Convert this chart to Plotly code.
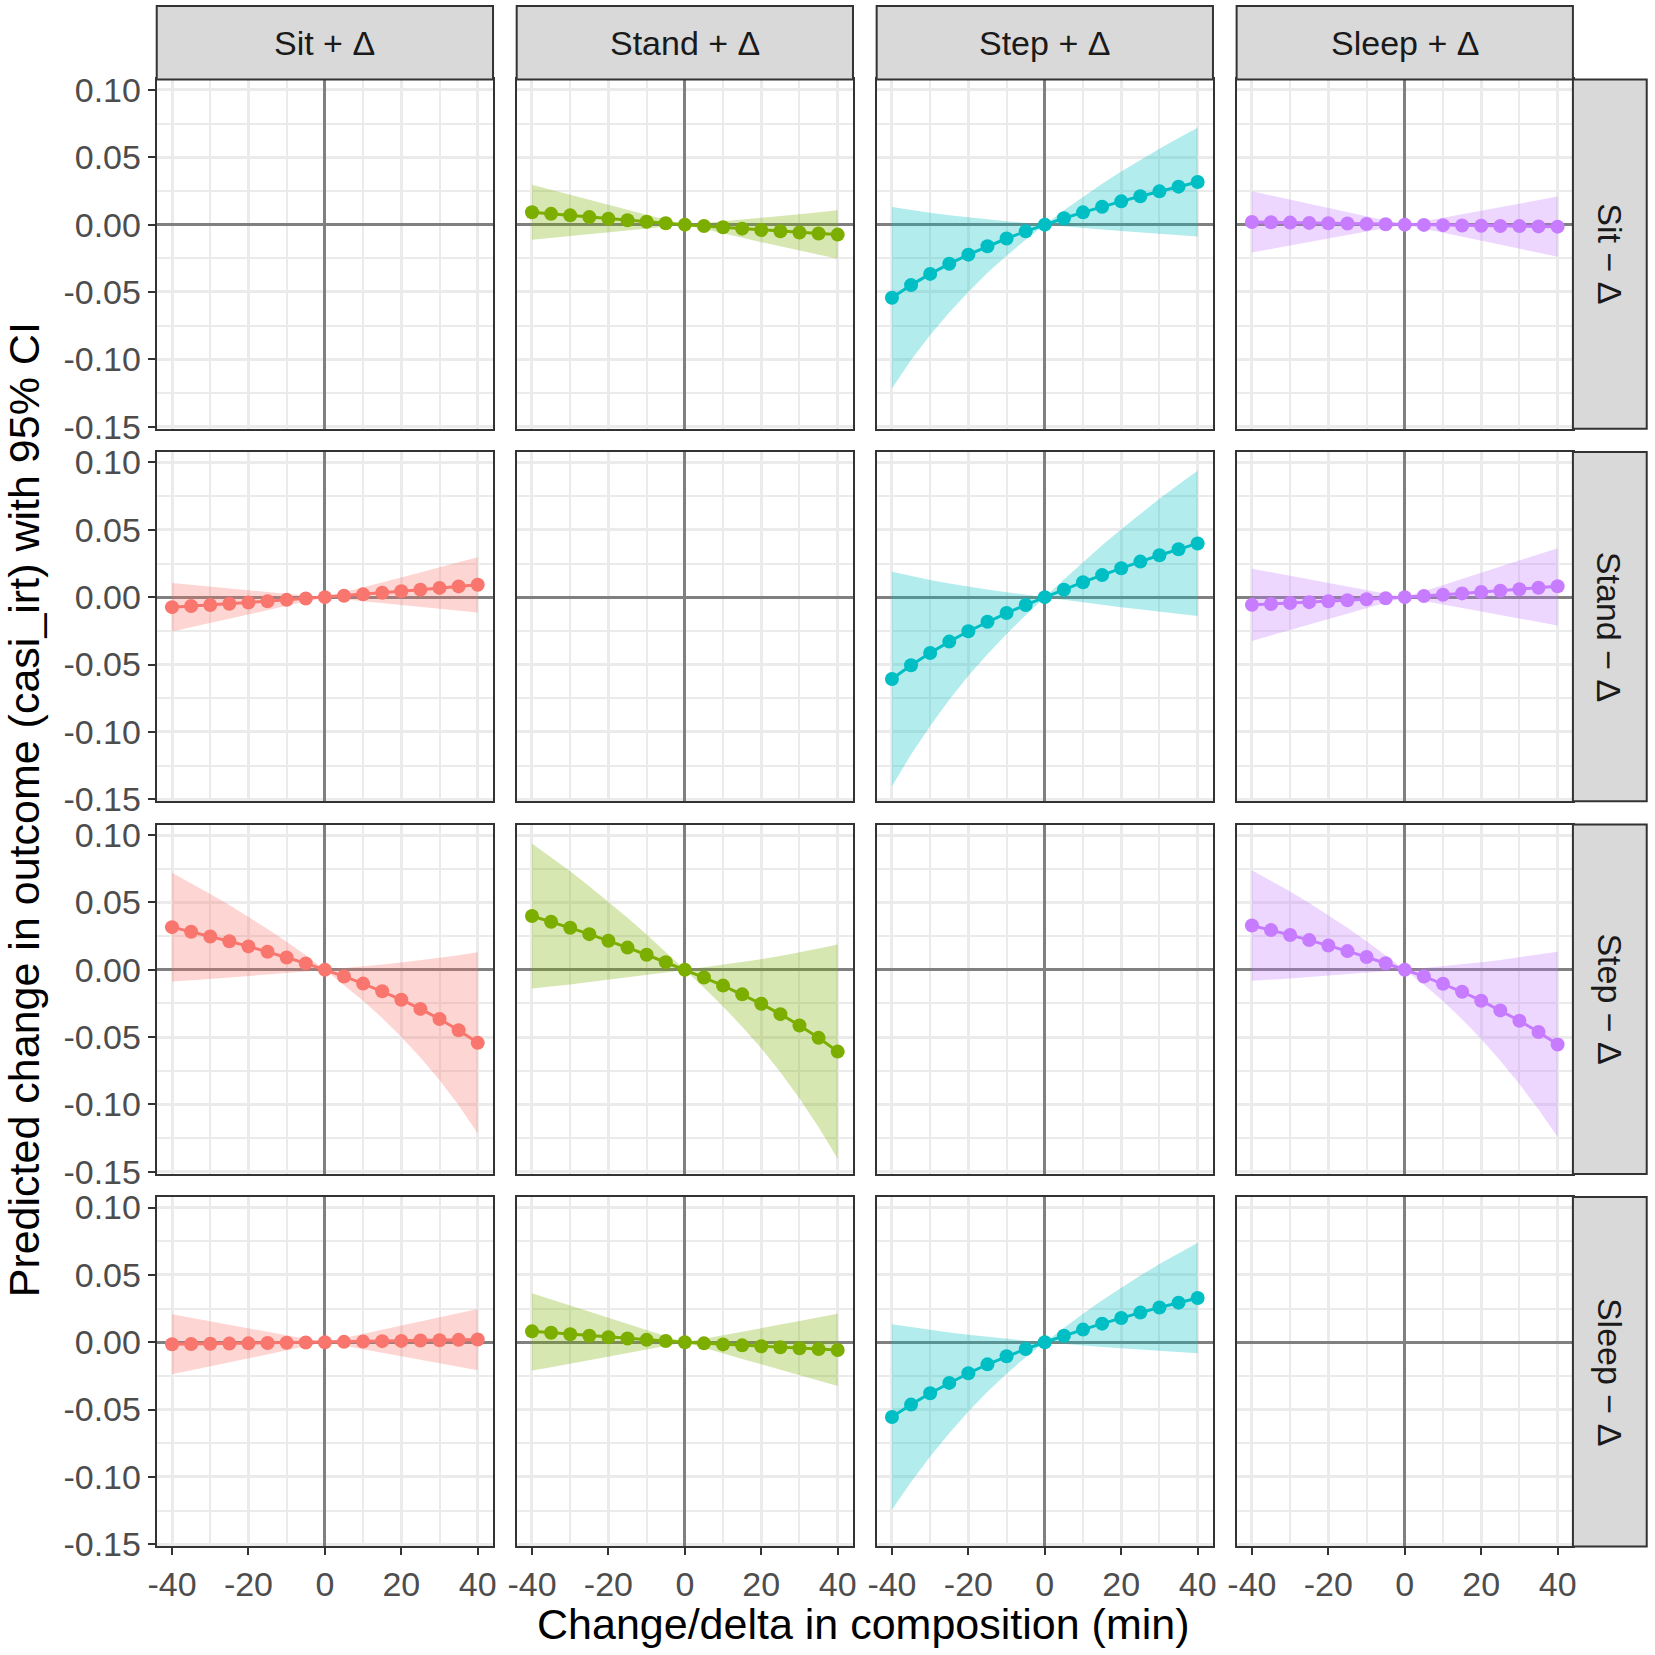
import plotly.graph_objects as go
from plotly.subplots import make_subplots

# facet labels: columns = activity increased (+), rows = activity decreased (-)
PLUS = ["Sit", "Stand", "Step", "Sleep"]
MINUS = ["Sit", "Stand", "Step", "Sleep"]
COLORS = ["#F8766D", "#7CAE00", "#00BFC4", "#C77CFF"]
FILLS = ["rgba(248,118,109,0.3)", "rgba(124,174,0,0.3)",
         "rgba(0,191,196,0.3)", "rgba(199,124,255,0.3)"]

DELTA = [-40, -35, -30, -25, -20, -15, -10, -5, 0, 5, 10, 15, 20, 25, 30, 35, 40]

X_TICKS = [-40, -20, 0, 20, 40]
X_TICK_TEXT = ["-40", "-20", "0", "20", "40"]
Y_TICKS = [-0.15, -0.10, -0.05, 0.0, 0.05, 0.10]
Y_TICK_TEXT = ["-0.15", "-0.10", "-0.05", "0.00", "0.05", "0.10"]

# Stand + / Sit -
STAND_SIT_EST = [0.0092, 0.0080, 0.0069, 0.0056, 0.0044, 0.0033, 0.0021, 0.0010, 0.0,
                 -0.0010, -0.0020, -0.0030, -0.0040, -0.0049, -0.0058, -0.0066, -0.0074]
STAND_SIT_LO = [-0.0113, -0.0100, -0.0085, -0.0072, -0.0059, -0.0044, -0.0030, -0.0016, 0.0,
                -0.0033, -0.0065, -0.0098, -0.0130, -0.0162, -0.0193, -0.0224, -0.0254]
STAND_SIT_HI = [0.0297, 0.0260, 0.0223, 0.0184, 0.0147, 0.0110, 0.0072, 0.0036, 0.0,
                0.0013, 0.0025, 0.0038, 0.0050, 0.0064, 0.0077, 0.0092, 0.0106]

# Sit + / Stand -
SIT_STAND_EST = [-0.0074, -0.0066, -0.0058, -0.0049, -0.0040, -0.0030, -0.0020, -0.0010, 0.0,
                 0.0010, 0.0021, 0.0033, 0.0044, 0.0056, 0.0069, 0.0080, 0.0092]
SIT_STAND_LO = [-0.0254, -0.0224, -0.0193, -0.0162, -0.0130, -0.0098, -0.0065, -0.0033, 0.0,
                -0.0016, -0.0030, -0.0044, -0.0059, -0.0072, -0.0085, -0.0100, -0.0113]
SIT_STAND_HI = [0.0106, 0.0092, 0.0077, 0.0064, 0.0050, 0.0038, 0.0025, 0.0013, 0.0,
                0.0036, 0.0072, 0.0110, 0.0147, 0.0184, 0.0223, 0.0260, 0.0297]

# Step + / Sit -
STEP_SIT_EST = [-0.0543, -0.0449, -0.0366, -0.0291, -0.0223, -0.0160, -0.0103, -0.0050, 0.0,
                0.0047, 0.0091, 0.0133, 0.0173, 0.0211, 0.0247, 0.0282, 0.0316]
STEP_SIT_LO = [-0.1216, -0.1006, -0.0820, -0.0652, -0.0500, -0.0358, -0.0231, -0.0112, 0.0,
               -0.0013, -0.0025, -0.0037, -0.0048, -0.0059, -0.0069, -0.0079, -0.0088]
STEP_SIT_HI = [0.0130, 0.0108, 0.0088, 0.0070, 0.0054, 0.0038, 0.0025, 0.0012, 0.0,
               0.0107, 0.0207, 0.0303, 0.0394, 0.0481, 0.0563, 0.0643, 0.0720]

# Sit + / Step -
SIT_STEP_EST = [0.0316, 0.0282, 0.0247, 0.0211, 0.0173, 0.0133, 0.0091, 0.0047, 0.0,
                -0.0050, -0.0103, -0.0160, -0.0223, -0.0291, -0.0366, -0.0449, -0.0543]
SIT_STEP_LO = [-0.0088, -0.0079, -0.0069, -0.0059, -0.0048, -0.0037, -0.0025, -0.0013, 0.0,
               -0.0112, -0.0231, -0.0358, -0.0500, -0.0652, -0.0820, -0.1006, -0.1216]
SIT_STEP_HI = [0.0720, 0.0643, 0.0563, 0.0481, 0.0394, 0.0303, 0.0207, 0.0107, 0.0,
               0.0012, 0.0025, 0.0038, 0.0054, 0.0070, 0.0088, 0.0108, 0.0130]

# Sleep + / Sit -
SLEEP_SIT_EST = [0.0020, 0.0018, 0.0015, 0.0013, 0.0010, 0.0008, 0.0005, 0.0003, 0.0,
                 -0.0002, -0.0004, -0.0006, -0.0008, -0.0010, -0.0011, -0.0013, -0.0015]
SLEEP_SIT_LO = [-0.0207, -0.0181, -0.0155, -0.0129, -0.0104, -0.0077, -0.0052, -0.0025, 0.0,
                -0.0030, -0.0060, -0.0090, -0.0120, -0.0150, -0.0178, -0.0208, -0.0238]
SLEEP_SIT_HI = [0.0247, 0.0217, 0.0185, 0.0155, 0.0124, 0.0093, 0.0062, 0.0031, 0.0,
                0.0026, 0.0052, 0.0078, 0.0104, 0.0130, 0.0156, 0.0182, 0.0208]

# Sit + / Sleep -
SIT_SLEEP_EST = [-0.0015, -0.0013, -0.0011, -0.0010, -0.0008, -0.0006, -0.0004, -0.0002, 0.0,
                 0.0003, 0.0005, 0.0008, 0.0010, 0.0013, 0.0015, 0.0018, 0.0020]
SIT_SLEEP_LO = [-0.0238, -0.0208, -0.0178, -0.0150, -0.0120, -0.0090, -0.0060, -0.0030, 0.0,
                -0.0025, -0.0052, -0.0077, -0.0104, -0.0129, -0.0155, -0.0181, -0.0207]
SIT_SLEEP_HI = [0.0208, 0.0182, 0.0156, 0.0130, 0.0104, 0.0078, 0.0052, 0.0026, 0.0,
                0.0031, 0.0062, 0.0093, 0.0124, 0.0155, 0.0185, 0.0217, 0.0247]

# Stand + / Step -
STAND_STEP_EST = [0.0399, 0.0356, 0.0311, 0.0264, 0.0215, 0.0164, 0.0111, 0.0056, 0.0,
                  -0.0058, -0.0118, -0.0183, -0.0253, -0.0330, -0.0414, -0.0506, -0.0608]
STAND_STEP_LO = [-0.0140, -0.0125, -0.0109, -0.0092, -0.0075, -0.0057, -0.0039, -0.0020, 0.0,
                 -0.0134, -0.0273, -0.0423, -0.0584, -0.0762, -0.0956, -0.1169, -0.1404]
STAND_STEP_HI = [0.0938, 0.0837, 0.0731, 0.0620, 0.0505, 0.0385, 0.0261, 0.0132, 0.0,
                 0.0018, 0.0037, 0.0057, 0.0078, 0.0102, 0.0128, 0.0157, 0.0188]

# Step + / Stand -
STEP_STAND_EST = [-0.0608, -0.0506, -0.0414, -0.0330, -0.0253, -0.0183, -0.0118, -0.0058, 0.0,
                  0.0056, 0.0111, 0.0164, 0.0215, 0.0264, 0.0311, 0.0356, 0.0399]
STEP_STAND_LO = [-0.1404, -0.1169, -0.0956, -0.0762, -0.0584, -0.0423, -0.0273, -0.0134, 0.0,
                 -0.0020, -0.0039, -0.0057, -0.0075, -0.0092, -0.0109, -0.0125, -0.0140]
STEP_STAND_HI = [0.0188, 0.0157, 0.0128, 0.0102, 0.0078, 0.0057, 0.0037, 0.0018, 0.0,
                 0.0132, 0.0261, 0.0385, 0.0505, 0.0620, 0.0731, 0.0837, 0.0938]

# Stand + / Sleep -
STAND_SLEEP_EST = [0.0081, 0.0070, 0.0059, 0.0048, 0.0038, 0.0028, 0.0018, 0.0009, 0.0,
                   -0.0008, -0.0016, -0.0023, -0.0030, -0.0037, -0.0044, -0.0051, -0.0057]
STAND_SLEEP_LO = [-0.0210, -0.0185, -0.0159, -0.0133, -0.0107, -0.0080, -0.0054, -0.0027, 0.0,
                  -0.0042, -0.0083, -0.0124, -0.0164, -0.0205, -0.0245, -0.0286, -0.0325]
STAND_SLEEP_HI = [0.0364, 0.0318, 0.0271, 0.0225, 0.0180, 0.0134, 0.0089, 0.0044, 0.0,
                  0.0026, 0.0051, 0.0078, 0.0104, 0.0131, 0.0157, 0.0184, 0.0211]

# Sleep + / Stand -
SLEEP_STAND_EST = [-0.0057, -0.0051, -0.0044, -0.0037, -0.0030, -0.0023, -0.0016, -0.0008, 0.0,
                   0.0009, 0.0018, 0.0028, 0.0038, 0.0048, 0.0059, 0.0070, 0.0081]
SLEEP_STAND_LO = [-0.0325, -0.0286, -0.0245, -0.0205, -0.0164, -0.0124, -0.0083, -0.0042, 0.0,
                  -0.0027, -0.0054, -0.0080, -0.0107, -0.0133, -0.0159, -0.0185, -0.0210]
SLEEP_STAND_HI = [0.0211, 0.0184, 0.0157, 0.0131, 0.0104, 0.0078, 0.0051, 0.0026, 0.0,
                  0.0044, 0.0089, 0.0134, 0.0180, 0.0225, 0.0271, 0.0318, 0.0364]

# Sleep + / Step -
SLEEP_STEP_EST = [0.0328, 0.0294, 0.0258, 0.0220, 0.0180, 0.0138, 0.0094, 0.0048, 0.0,
                  -0.0050, -0.0104, -0.0164, -0.0230, -0.0302, -0.0379, -0.0463, -0.0555]
SLEEP_STEP_LO = [-0.0082, -0.0074, -0.0065, -0.0055, -0.0045, -0.0035, -0.0024, -0.0012, 0.0,
                 -0.0112, -0.0233, -0.0367, -0.0515, -0.0676, -0.0849, -0.1037, -0.1243]
SLEEP_STEP_HI = [0.0738, 0.0662, 0.0581, 0.0495, 0.0405, 0.0311, 0.0212, 0.0108, 0.0,
                 0.0012, 0.0025, 0.0039, 0.0055, 0.0072, 0.0091, 0.0111, 0.0133]

# Step + / Sleep -
STEP_SLEEP_EST = [-0.0555, -0.0463, -0.0379, -0.0302, -0.0230, -0.0164, -0.0104, -0.0050, 0.0,
                  0.0048, 0.0094, 0.0138, 0.0180, 0.0220, 0.0258, 0.0294, 0.0328]
STEP_SLEEP_LO = [-0.1243, -0.1037, -0.0849, -0.0676, -0.0515, -0.0367, -0.0233, -0.0112, 0.0,
                 -0.0012, -0.0024, -0.0035, -0.0045, -0.0055, -0.0065, -0.0074, -0.0082]
STEP_SLEEP_HI = [0.0133, 0.0111, 0.0091, 0.0072, 0.0055, 0.0039, 0.0025, 0.0012, 0.0,
                 0.0108, 0.0212, 0.0311, 0.0405, 0.0495, 0.0581, 0.0662, 0.0738]

# (row = minus index, col = plus index) -> series
PANELS = [
    (0, 1, STAND_SIT_EST, STAND_SIT_LO, STAND_SIT_HI),
    (0, 2, STEP_SIT_EST, STEP_SIT_LO, STEP_SIT_HI),
    (0, 3, SLEEP_SIT_EST, SLEEP_SIT_LO, SLEEP_SIT_HI),
    (1, 0, SIT_STAND_EST, SIT_STAND_LO, SIT_STAND_HI),
    (1, 2, STEP_STAND_EST, STEP_STAND_LO, STEP_STAND_HI),
    (1, 3, SLEEP_STAND_EST, SLEEP_STAND_LO, SLEEP_STAND_HI),
    (2, 0, SIT_STEP_EST, SIT_STEP_LO, SIT_STEP_HI),
    (2, 1, STAND_STEP_EST, STAND_STEP_LO, STAND_STEP_HI),
    (2, 3, SLEEP_STEP_EST, SLEEP_STEP_LO, SLEEP_STEP_HI),
    (3, 0, SIT_SLEEP_EST, SIT_SLEEP_LO, SIT_SLEEP_HI),
    (3, 1, STAND_SLEEP_EST, STAND_SLEEP_LO, STAND_SLEEP_HI),
    (3, 2, STEP_SLEEP_EST, STEP_SLEEP_LO, STEP_SLEEP_HI),
]

X_DOMAINS = [[0.0947, 0.2979], [0.3122, 0.5154], [0.5297, 0.7329], [0.7472, 0.9504]]
Y_DOMAINS = [[0.7409, 0.9520], [0.5158, 0.7269], [0.2907, 0.5018], [0.0656, 0.2767]]
STRIP_TOP = 0.9964
STRIP_RIGHT = 0.9950

FONT = "Liberation Sans, Arial, sans-serif"
GRID = "#EBEBEB"
BORDER = "#333333"


def main():
    fig = make_subplots(rows=4, cols=4)

    for r, c, est, lo, hi in PANELS:
        fig.add_trace(go.Scatter(
            x=DELTA + DELTA[::-1], y=hi + lo[::-1],
            fill="toself", fillcolor=FILLS[c], mode="lines",
            line=dict(width=0), hoverinfo="skip", showlegend=False,
        ), row=r + 1, col=c + 1)
        fig.add_trace(go.Scatter(
            x=DELTA, y=est, mode="lines+markers",
            line=dict(color=COLORS[c], width=3),
            marker=dict(color=COLORS[c], size=14),
            showlegend=False,
        ), row=r + 1, col=c + 1)

    # diagonal panels have no data, but still need their axes drawn
    for k in range(4):
        fig.add_trace(go.Scatter(x=[], y=[], mode="markers", showlegend=False,
                                 hoverinfo="skip"), row=k + 1, col=k + 1)

    for r in range(4):
        for c in range(4):
            fig.update_xaxes(
                row=r + 1, col=c + 1, domain=X_DOMAINS[c], range=[-44, 44],
                autorange=False, automargin=False,
                tickvals=X_TICKS, ticktext=X_TICK_TEXT,
                showticklabels=(r == 3), ticks="outside" if r == 3 else "",
                ticklen=7, tickwidth=2, tickcolor=BORDER,
                tickfont=dict(family=FONT, size=34, color="#4D4D4D"),
                showgrid=True, gridcolor=GRID, gridwidth=2.5,
                minor=dict(tickvals=[-30, -10, 10, 30], showgrid=True,
                           gridcolor=GRID, gridwidth=1.5, ticks=""),
                zeroline=True, zerolinecolor="#808080", zerolinewidth=2.5,
                showline=True, mirror=True, linecolor=BORDER, linewidth=2,
            )
            fig.update_yaxes(
                row=r + 1, col=c + 1, domain=Y_DOMAINS[r], range=[-0.1516, 0.1078],
                autorange=False, automargin=False,
                tickvals=Y_TICKS, ticktext=Y_TICK_TEXT,
                showticklabels=(c == 0), ticks="outside" if c == 0 else "",
                ticklen=7, tickwidth=2, tickcolor=BORDER,
                tickfont=dict(family=FONT, size=34, color="#4D4D4D"),
                showgrid=True, gridcolor=GRID, gridwidth=2.5,
                minor=dict(tickvals=[-0.125, -0.075, -0.025, 0.025, 0.075], showgrid=True,
                           gridcolor=GRID, gridwidth=1.5, ticks=""),
                zeroline=True, zerolinecolor="#808080", zerolinewidth=2.5,
                showline=True, mirror=True, linecolor=BORDER, linewidth=2,
            )

    # strips on top
    for c in range(4):
        x0, x1 = X_DOMAINS[c]
        fig.add_shape(type="rect", xref="paper", yref="paper",
                      x0=x0, x1=x1, y0=Y_DOMAINS[0][1], y1=STRIP_TOP,
                      fillcolor="#D9D9D9", line=dict(color=BORDER, width=2))
        fig.add_annotation(xref="paper", yref="paper", x=(x0 + x1) / 2,
                           y=(Y_DOMAINS[0][1] + STRIP_TOP) / 2,
                           xanchor="center", yanchor="middle",
                           text=f"{PLUS[c]} + Δ", showarrow=False,
                           font=dict(family=FONT, size=34, color="#1A1A1A"))
    # strips on the right
    for r in range(4):
        y0, y1 = Y_DOMAINS[r]
        fig.add_shape(type="rect", xref="paper", yref="paper",
                      x0=X_DOMAINS[3][1], x1=STRIP_RIGHT, y0=y0, y1=y1,
                      fillcolor="#D9D9D9", line=dict(color=BORDER, width=2))
        fig.add_annotation(xref="paper", yref="paper",
                           x=(X_DOMAINS[3][1] + STRIP_RIGHT) / 2, y=(y0 + y1) / 2,
                           xanchor="center", yanchor="middle",
                           text=f"{MINUS[r]} − Δ", textangle=90, showarrow=False,
                           font=dict(family=FONT, size=34, color="#1A1A1A"))

    fig.add_annotation(xref="paper", yref="paper", x=0.522, y=0.019,
                       xanchor="center", yanchor="middle",
                       text="Change/delta in composition (min)", showarrow=False,
                       font=dict(family=FONT, size=43, color="black"))
    fig.add_annotation(xref="paper", yref="paper", x=0.0145, y=0.511,
                       xanchor="center", yanchor="middle",
                       text="Predicted change in outcome (casi_irt) with 95% CI",
                       textangle=-90, showarrow=False,
                       font=dict(family=FONT, size=43, color="black"))

    fig.update_layout(
        width=1655, height=1655, margin=dict(l=0, r=0, t=0, b=0, autoexpand=False),
        paper_bgcolor="white", plot_bgcolor="white", showlegend=False,
        font=dict(family=FONT),
    )
    # drop the browser's default body margin so the figure sits at the page corner
    fig.write_html("out.html", config={"displayModeBar": False},
                   post_script="document.body.style.margin='0';")


if __name__ == "__main__":
    main()
